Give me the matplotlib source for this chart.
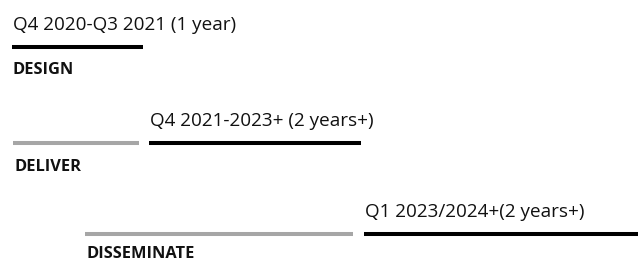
import matplotlib.pyplot as plt

# timeline rows (x in timeline units, left to right across the page)
phases = ["DESIGN", "DELIVER", "DISSEMINATE"]
periods = ["Q4 2020-Q3 2021 (1 year)", "Q4 2021-2023+ (2 years+)", "Q1 2023/2024+(2 years+)"]
lead_start = [None, 13, 85]
lead_end = [None, 139, 353]
main_start = [12, 149, 364]
main_end = [143, 361, 640]
row_y = [46.5, 143, 234]

grey = "#a6a6a6"
lw = 2.9
font = "Open Sans"

fig = plt.figure(figsize=(6.38, 2.62), dpi=100)
ax = fig.add_axes([0, 0, 1, 1])
ax.set_xlim(0, 638)
ax.set_ylim(262, 0)
ax.axis("off")

for i, name in enumerate(phases):
    y = row_y[i]
    if lead_start[i] is not None:
        ax.plot([lead_start[i], lead_end[i]], [y, y], color=grey, lw=lw, solid_capstyle="butt")
    ax.plot([main_start[i], main_end[i]], [y, y], color="black", lw=lw, solid_capstyle="butt")
    # period label above the black bar, phase name under the row start
    ax.text(main_start[i] + 1, y - 17, periods[i], fontsize=13.6, family=font,
            ha="left", va="baseline", color="#111111")
    name_x = lead_start[i] if lead_start[i] is not None else main_start[i]
    # keep the last name inside the page
    ax.text(name_x + 1, min(y + 28, 258.5), name, fontsize=11.8, family=font, fontweight="bold",
            ha="left", va="baseline", color="#111111")

plt.savefig("out.png", dpi=100)
plt.close()
